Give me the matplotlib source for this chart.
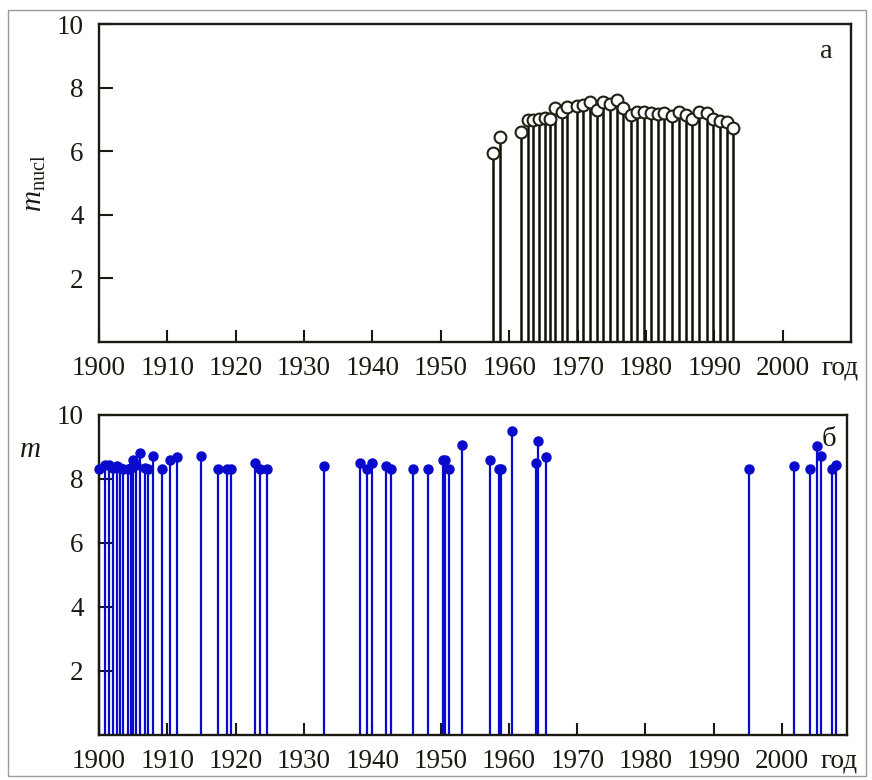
import matplotlib
matplotlib.use("Agg")
import matplotlib.pyplot as plt
from matplotlib.patches import Rectangle

plt.rcParams['font.family'] = ['Liberation Serif', 'DejaVu Serif']
plt.rcParams['mathtext.fontset'] = 'custom'
plt.rcParams['mathtext.rm'] = 'Liberation Serif'
plt.rcParams['mathtext.it'] = 'Liberation Serif:italic'

# Panel a: nuclear explosions (m_nucl)
years_a = [1957.6, 1958.6, 1961.7, 1962.7, 1963.5, 1964.3, 1965.2, 1965.9, 1966.7,
           1967.7, 1968.4, 1969.9, 1970.8, 1971.8, 1972.8, 1973.7, 1974.7, 1975.7,
           1976.6, 1977.8, 1978.7, 1979.7, 1980.8, 1981.7, 1982.7, 1983.8, 1984.9,
           1985.9, 1986.7, 1987.7, 1988.9, 1989.8, 1990.8, 1991.8, 1992.8]
m_a = [5.94, 6.45, 6.60, 6.98, 6.98, 7.00, 7.05, 7.00, 7.36,
       7.23, 7.39, 7.42, 7.45, 7.55, 7.30, 7.55, 7.50, 7.60,
       7.36, 7.14, 7.24, 7.24, 7.20, 7.17, 7.20, 7.10, 7.23,
       7.14, 7.00, 7.23, 7.20, 7.00, 6.95, 6.92, 6.73]

# Panel b: earthquakes (m)
years_b = [1900.0, 1900.9, 1901.5, 1902.0, 1902.6, 1903.1, 1903.5, 1904.2, 1904.7,
           1905.0, 1905.4, 1906.0, 1906.7, 1907.2, 1907.9, 1909.2, 1910.4, 1911.4,
           1914.9, 1917.4, 1918.7, 1919.3, 1922.8, 1923.5, 1924.6, 1933.0, 1938.2,
           1939.2, 1939.9, 1942.0, 1942.7, 1945.9, 1948.1, 1950.3, 1950.7, 1951.2,
           1953.1, 1957.3, 1958.6, 1958.9, 1960.5, 1963.9, 1964.3, 1965.4, 1995.2,
           2001.8, 2004.1, 2005.1, 2005.7, 2007.3, 2007.9]
m_b = [8.30, 8.45, 8.45, 8.35, 8.40, 8.35, 8.30, 8.30, 8.35,
       8.60, 8.45, 8.80, 8.35, 8.30, 8.72, 8.30, 8.60, 8.70,
       8.72, 8.30, 8.30, 8.30, 8.50, 8.30, 8.30, 8.42, 8.50,
       8.30, 8.50, 8.40, 8.30, 8.30, 8.30, 8.60, 8.60, 8.30,
       9.05, 8.60, 8.30, 8.30, 9.50, 8.50, 9.20, 8.70, 8.30,
       8.42, 8.30, 9.03, 8.72, 8.30, 8.45]

xticks = [1900, 1910, 1920, 1930, 1940, 1950, 1960, 1970, 1980, 1990, 2000]
yticks = [2, 4, 6, 8, 10]

W, H = 872, 780
fig = plt.figure(figsize=(W / 100, H / 100), dpi=100)

def px_axes(l, t, r, b):
    return fig.add_axes([l / W, 1 - b / H, (r - l) / W, (b - t) / H])

ax1 = px_axes(99, 24, 851, 342)
ax2 = px_axes(99, 415, 847, 735)

spine_col = '#1a1a10'
fs = 19.5

for ax in (ax1, ax2):
    ax.set_ylim(0, 10)
    ax.set_xticks(xticks)
    ax.set_xticklabels([str(x) for x in xticks])
    ax.set_yticks(yticks)
    ax.set_yticklabels([str(y) for y in yticks])
    ax.tick_params(axis='x', direction='in', length=9, width=1.5, pad=10,
                   labelsize=fs, colors=spine_col, top=False)
    ax.tick_params(axis='y', direction='in', length=10, width=1.5, pad=11,
                   labelsize=fs, colors=spine_col, right=False)
    for s in ax.spines.values():
        s.set_linewidth(1.7)
        s.set_color(spine_col)
    ax.annotate('год', xy=(2008.4, 0), xycoords=('data', 'axes fraction'),
                xytext=(0, -10), textcoords='offset points',
                ha='center', va='top', fontsize=fs, color=spine_col,
                annotation_clip=False)

ax1.set_xlim(1900, 2010)
ax2.set_xlim(1900, 2009.5)

# Panel a
ax1.vlines(years_a, 0, m_a, colors='#111108', linewidth=1.8, zorder=2)
ax1.plot(years_a, m_a, 'o', markersize=8.5, markerfacecolor='white',
         markeredgecolor='#202014', markeredgewidth=1.5, linestyle='none', zorder=3)
ax1.text(0.976, 0.915, 'а', transform=ax1.transAxes, fontsize=fs + 1,
         ha='right', va='center', color=spine_col)
ax1.set_ylabel(r'$m_{\rm nucl}$', fontsize=21, color=spine_col, labelpad=6)

# Panel b
blue = '#0a0acc'
ax2.vlines(years_b, 0, m_b, colors=blue, linewidth=1.6, zorder=2, clip_on=False)
ax2.plot(years_b, m_b, 'o', markersize=6.5, color=blue, linestyle='none',
         zorder=3, clip_on=False)
ax2.text(0.985, 0.922, 'б', transform=ax2.transAxes, fontsize=fs + 1,
         ha='right', va='center', color=spine_col)
fig.text(30 / W, 1 - 450 / H, r'$m$', fontsize=21, ha='center', va='center',
         color=spine_col)

# outer frame
fig.patches.append(Rectangle((8 / W, 4 / H), (866 - 8) / W, (770 - 4) / H,
                             transform=fig.transFigure, fill=False,
                             edgecolor='#9a9a9a', linewidth=1.0))

fig.savefig('out.png', dpi=100)
